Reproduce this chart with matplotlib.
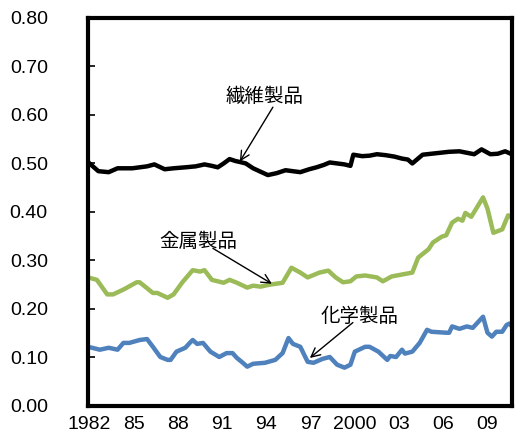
import matplotlib
matplotlib.use("Agg")
import matplotlib.pyplot as plt

plt.rcParams['font.family'] = ['Liberation Sans', 'Noto Sans CJK JP', 'DejaVu Sans']

# 繊維製品
textile_years = [1982.0, 1982.1, 1982.7, 1983.4, 1984.0, 1985.0, 1985.5, 1986.0, 1986.5, 1987.2,
                 1987.8, 1988.6, 1989.3, 1989.9, 1990.4, 1990.8, 1991.2, 1991.6, 1992.0, 1992.3,
                 1992.7, 1993.2, 1993.7, 1994.2, 1994.8, 1995.4, 1995.9, 1996.4, 1997.0, 1997.5,
                 1998.0, 1998.4, 1998.9, 1999.4, 1999.8, 2000.0, 2000.6, 2001.1, 2001.6, 2002.2,
                 2002.8, 2003.3, 2003.7, 2004.0, 2004.7, 2005.3, 2005.9, 2006.5, 2007.2, 2007.7,
                 2008.2, 2008.7, 2009.3, 2009.8, 2010.3, 2010.75]
textile = [0.503, 0.500, 0.484, 0.482, 0.490, 0.490, 0.492, 0.494, 0.498, 0.488,
           0.490, 0.492, 0.494, 0.498, 0.495, 0.492, 0.500, 0.509, 0.505, 0.503,
           0.500, 0.490, 0.483, 0.476, 0.480, 0.486, 0.484, 0.482, 0.488, 0.492,
           0.497, 0.502, 0.500, 0.498, 0.495, 0.518, 0.515, 0.516, 0.519, 0.517,
           0.514, 0.510, 0.508, 0.500, 0.518, 0.520, 0.522, 0.524, 0.525, 0.522,
           0.519, 0.529, 0.519, 0.520, 0.525, 0.519]

# 金属製品
metal_years = [1982.0, 1982.6, 1983.3, 1983.7, 1984.4, 1985.3, 1985.5, 1986.4, 1986.7, 1987.4,
               1987.8, 1988.4, 1989.1, 1989.6, 1989.9, 1990.4, 1991.2, 1991.6, 1992.1, 1992.8,
               1993.2, 1993.7, 1994.3, 1995.2, 1995.8, 1996.4, 1996.9, 1997.7, 1998.3, 1998.8,
               1999.3, 1999.8, 2000.2, 2000.8, 2001.6, 2002.0, 2002.6, 2003.3, 2004.0, 2004.4,
               2005.1, 2005.4, 2006.0, 2006.3, 2006.7, 2007.1, 2007.4, 2007.6, 2008.0, 2008.8,
               2009.1, 2009.5, 2010.1, 2010.5, 2010.75]
metal = [0.265, 0.260, 0.230, 0.230, 0.240, 0.255, 0.255, 0.233, 0.233, 0.223,
         0.230, 0.255, 0.280, 0.277, 0.280, 0.260, 0.254, 0.260, 0.254, 0.244,
         0.248, 0.246, 0.250, 0.254, 0.285, 0.275, 0.265, 0.275, 0.279, 0.265,
         0.255, 0.257, 0.267, 0.269, 0.265, 0.257, 0.267, 0.271, 0.275, 0.306,
         0.323, 0.337, 0.349, 0.352, 0.378, 0.386, 0.382, 0.398, 0.390, 0.430,
         0.407, 0.357, 0.364, 0.393, 0.389]

# 化学製品
chem_years = [1982.0, 1982.8, 1983.4, 1984.0, 1984.4, 1984.8, 1985.5, 1986.0, 1986.4, 1986.9,
              1987.4, 1987.6, 1988.0, 1988.6, 1988.9, 1989.1, 1989.4, 1989.8, 1990.3, 1990.9,
              1991.4, 1991.8, 1992.1, 1992.5, 1992.8, 1993.2, 1994.0, 1994.7, 1995.2, 1995.6,
              1995.9, 1996.4, 1996.9, 1997.3, 1997.9, 1998.4, 1998.9, 1999.4, 1999.8, 2000.1,
              2000.8, 2001.1, 2001.7, 2002.3, 2002.5, 2002.9, 2003.3, 2003.5, 2004.0, 2004.5,
              2005.0, 2005.3, 2006.3, 2006.5, 2006.7, 2007.2, 2007.7, 2008.1, 2008.8, 2009.1,
              2009.4, 2009.7, 2010.1, 2010.4, 2010.6, 2010.75]
chem = [0.122, 0.116, 0.120, 0.116, 0.130, 0.130, 0.136, 0.138, 0.122, 0.101,
        0.095, 0.095, 0.112, 0.120, 0.130, 0.136, 0.128, 0.130, 0.112, 0.101,
        0.109, 0.109, 0.099, 0.089, 0.081, 0.087, 0.089, 0.095, 0.109, 0.140,
        0.128, 0.122, 0.091, 0.089, 0.097, 0.101, 0.085, 0.079, 0.085, 0.112,
        0.122, 0.122, 0.112, 0.095, 0.103, 0.101, 0.116, 0.108, 0.112, 0.130,
        0.157, 0.153, 0.151, 0.151, 0.164, 0.159, 0.164, 0.161, 0.184, 0.151,
        0.143, 0.153, 0.153, 0.167, 0.170, 0.164]

tick_years = [1982.1, 1985.1, 1988.1, 1991.1, 1994.1, 1997.1, 2000.1, 2003.1, 2006.1, 2009.1, 2011.75]
tick_labels = ['1982', '85', '88', '91', '94', '97', '2000', '03', '06', '09', '12']
y_ticks = [0.0, 0.1, 0.2, 0.3, 0.4, 0.5, 0.6, 0.7, 0.8]

fig = plt.figure(figsize=(5.18, 4.37), dpi=100)
ax = fig.add_axes([0.170, 0.071, 0.818, 0.888])

ax.plot(textile_years, textile, color='black', lw=3.2, solid_joinstyle='round')
ax.plot(metal_years, metal, color='#9BBB59', lw=3.2, solid_joinstyle='round')
ax.plot(chem_years, chem, color='#4F81BD', lw=3.2, solid_joinstyle='round')

ax.set_yticks(y_ticks)
ax.set_yticklabels([f'{v:.2f}' for v in y_ticks], fontsize=14)
ax.set_xticks(tick_years)
ax.set_xticklabels(tick_labels, fontsize=14)
ax.set_xlim(1982.0, 2010.75)
ax.set_ylim(0.0, 0.8)
for lbl in ax.get_xticklabels():
    lbl.set_clip_on(False)
ax.tick_params(axis='y', direction='in', length=5, width=1.2, pad=29)
ax.tick_params(axis='x', length=0, pad=7)
for s in ax.spines.values():
    s.set_linewidth(3)
    s.set_color('black')

jp = ['Noto Sans CJK JP', 'DejaVu Sans']
arrow = dict(arrowstyle='->', lw=1.0, color='black', mutation_scale=16, shrinkA=0, shrinkB=0)
ax.text(1994.0, 0.639, '繊維製品', fontsize=14, family=jp, ha='center', va='center')
ax.annotate('', xy=(1992.3, 0.504), xytext=(1994.54, 0.616), arrowprops=arrow)
ax.text(1989.5, 0.339, '金属製品', fontsize=14, family=jp, ha='center', va='center')
ax.annotate('', xy=(1994.47, 0.252), xytext=(1990.47, 0.325), arrowprops=arrow)
ax.text(2000.44, 0.184, '化学製品', fontsize=14, family=jp, ha='center', va='center')
ax.annotate('', xy=(1997.05, 0.099), xytext=(1999.97, 0.172), arrowprops=arrow)

fig.savefig('out.png', dpi=100)
